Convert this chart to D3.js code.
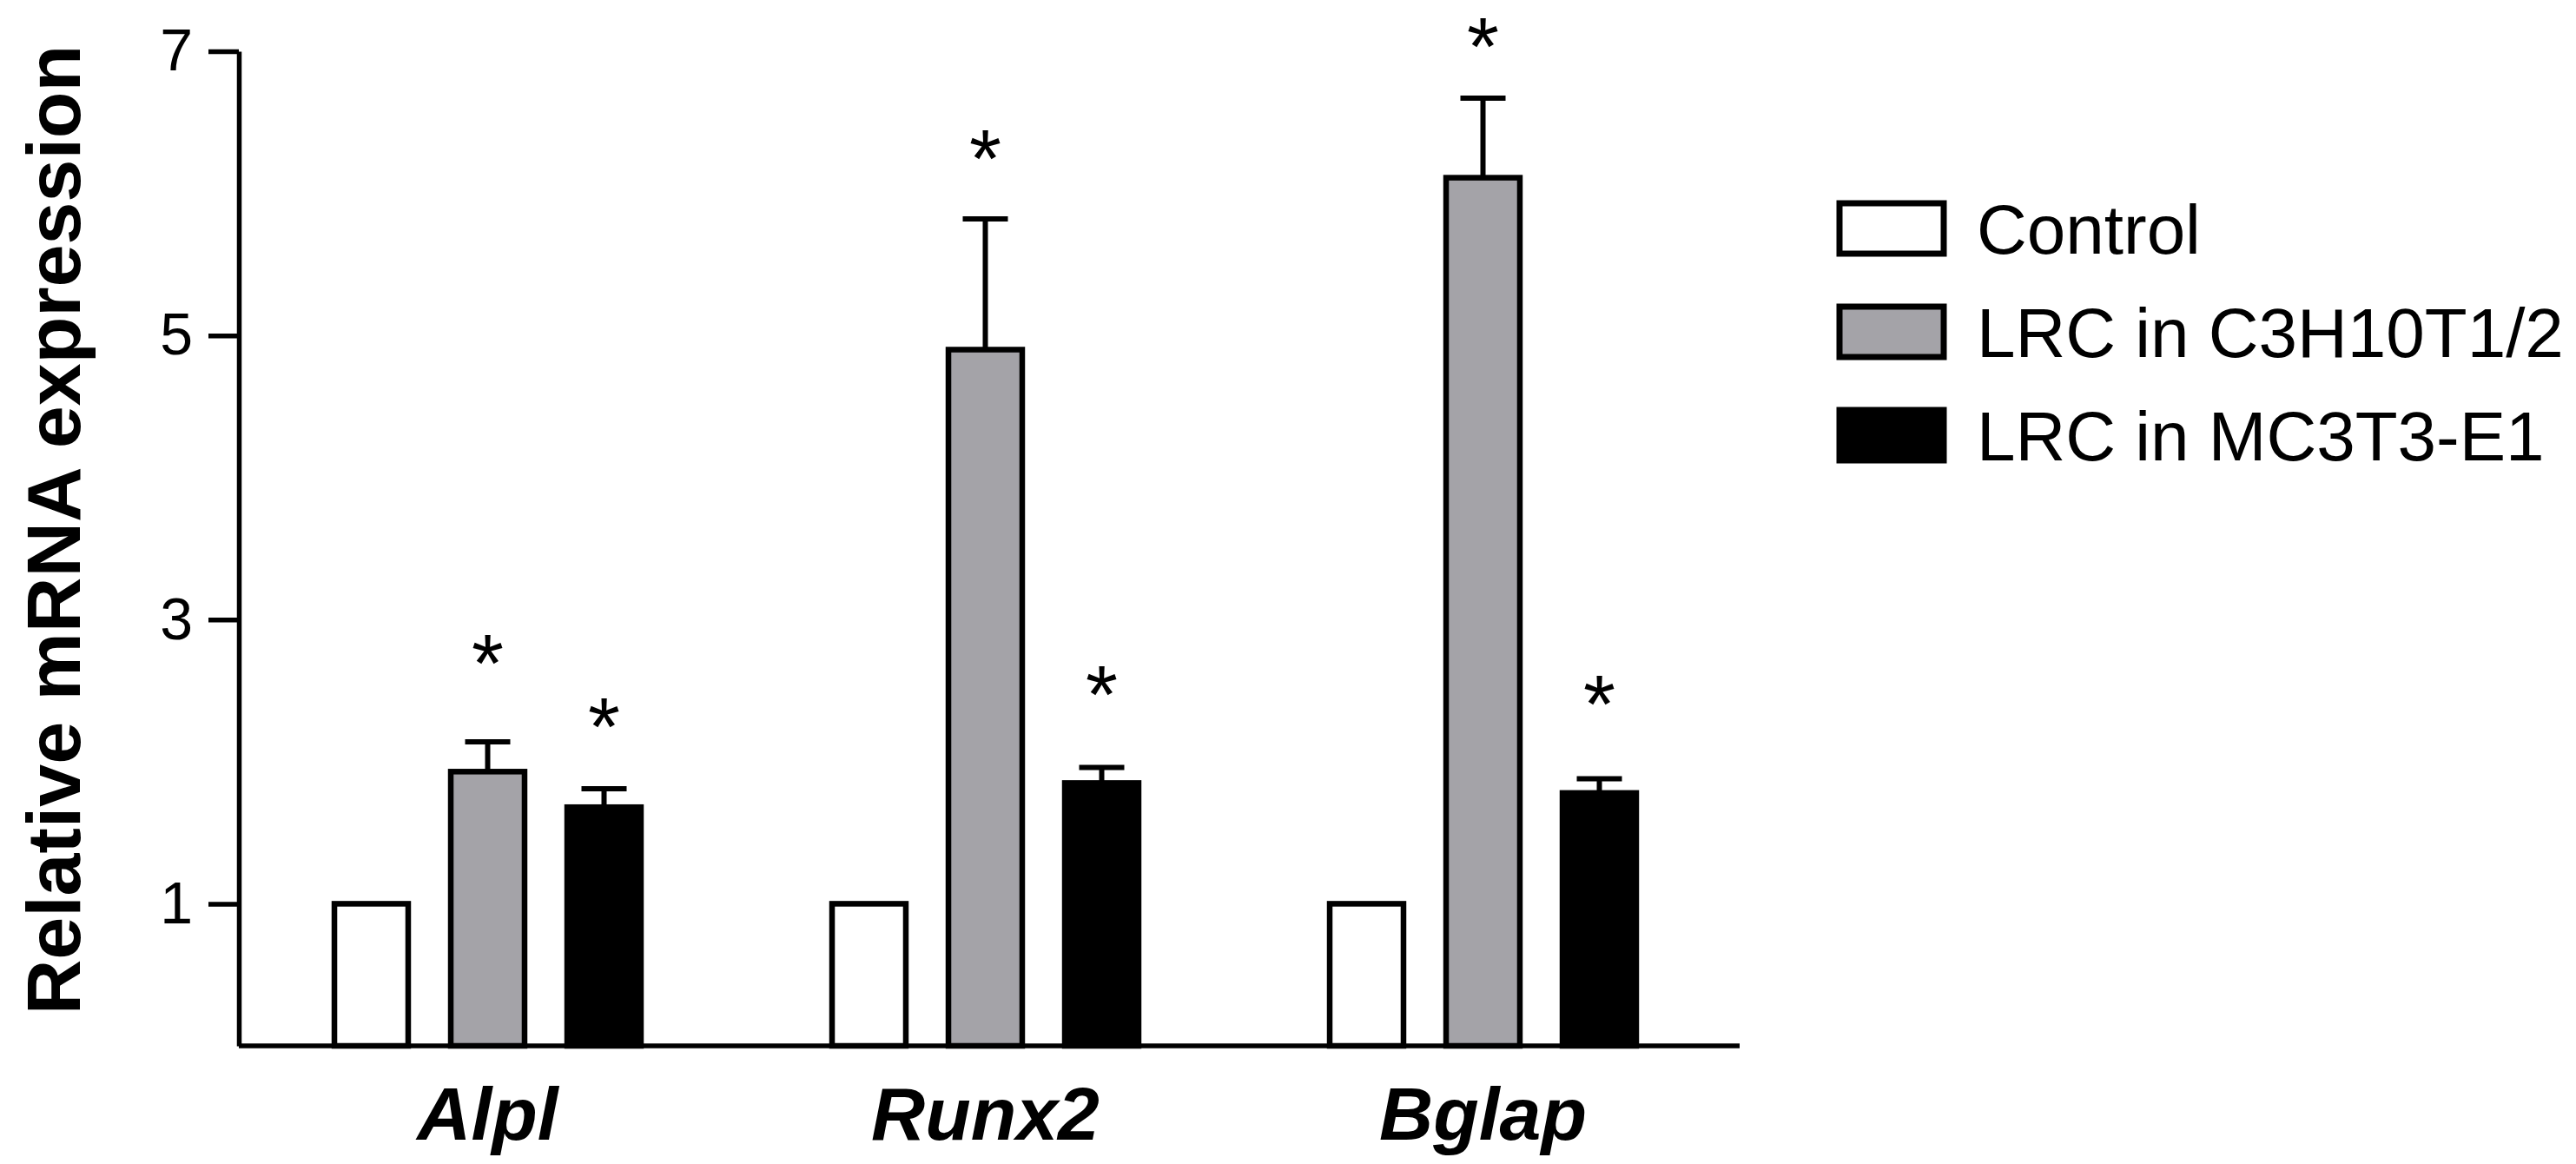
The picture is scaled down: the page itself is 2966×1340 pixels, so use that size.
<!DOCTYPE html>
<html>
<head>
<meta charset="utf-8">
<script src="https://cdn.jsdelivr.net/npm/d3@7"></script>
<style>
  body { margin: 0; background: #fff; }
  svg { display: block; font-family: Arial, "Liberation Sans", sans-serif; }
</style>
</head>
<body>
<div id="chart"></div>
<script>
// Relative mRNA expression of osteogenic markers, mean + SEM.
const genes = ["Alpl", "Runx2", "Bglap"];
const groups = ["Control", "LRC in C3H10T1/2", "LRC in MC3T3-E1"];
const control = [1, 1, 1];
const c3h = [1.93, 4.90, 6.11];
const c3hSem = [0.21, 0.92, 0.56];
const mc3t3 = [1.68, 1.85, 1.78];
const mc3t3Sem = [0.13, 0.11, 0.10];
// centre of each significance star, in axis units (null = no star)
const c3hStar = [2.82, 6.37, 7.16];
const mc3t3Star = [2.37, 2.60, 2.53];
const yTicks = [1, 3, 5, 7];

const fills = { "Control": "#ffffff", "LRC in C3H10T1/2": "#a4a3a8", "LRC in MC3T3-E1": "#000000" };

const W = 2966, H = 1340;
const axisLeft = 275, axisRight = 2003, yBase = 1204, yTop = 59;
const groupStep = 573;

const svg = d3.select("#chart").append("svg")
  .attr("width", W).attr("height", H)
  .attr("viewBox", `0 0 ${W} ${H}`);

const x0 = d3.scaleBand().domain(genes).range([axisLeft, axisLeft + groupStep * genes.length]);
const x1 = d3.scaleBand().domain(groups).range([-201, 201]).paddingInner(0.366).paddingOuter(0.183);
const y = d3.scaleLinear([0, 7], [yBase, yTop]);

const rows = genes.flatMap((g, i) => [
  { gene: g, group: groups[0], v: control[i], sem: 0, star: null },
  { gene: g, group: groups[1], v: c3h[i], sem: c3hSem[i], star: c3hStar[i] },
  { gene: g, group: groups[2], v: mc3t3[i], sem: mc3t3Sem[i], star: mc3t3Star[i] },
]);
const cx = (d) => x0(d.gene) + x0.bandwidth() / 2 + x1(d.group) + x1.bandwidth() / 2;

// error bars (upper only) drawn under the bars
const err = svg.append("g").attr("stroke", "#000").attr("stroke-width", 6)
  .selectAll("g").data(rows.filter((d) => d.sem > 0)).join("g");
err.append("line")
  .attr("x1", cx).attr("x2", cx)
  .attr("y1", (d) => y(d.v)).attr("y2", (d) => y(d.v + d.sem));
err.append("line")
  .attr("x1", (d) => cx(d) - 26).attr("x2", (d) => cx(d) + 26)
  .attr("y1", (d) => y(d.v + d.sem)).attr("y2", (d) => y(d.v + d.sem));

svg.append("g").selectAll("rect").data(rows).join("rect")
  .attr("x", (d) => cx(d) - x1.bandwidth() / 2)
  .attr("width", x1.bandwidth())
  .attr("y", (d) => y(d.v))
  .attr("height", (d) => y(0) - y(d.v))
  .attr("fill", (d) => fills[d.group])
  .attr("stroke", "#000").attr("stroke-width", 6.5);

svg.append("g").selectAll("text").data(rows.filter((d) => d.star != null)).join("text")
  .attr("x", cx).attr("y", (d) => y(d.star) + 53)
  .attr("text-anchor", "middle")
  .attr("font-size", 95)
  .text("*");

// y axis
const ya = svg.append("g").attr("transform", `translate(${axisLeft},0)`)
  .call(d3.axisLeft(y).tickValues(yTicks).tickSize(35).tickSizeOuter(0).tickPadding(18).tickFormat(d3.format("d")));
ya.selectAll("path, line").attr("stroke", "#000").attr("stroke-width", 5.5);
ya.selectAll("text").attr("font-size", 68).attr("fill", "#000").attr("font-family", "Arial, 'Liberation Sans', sans-serif");

// x axis (baseline runs a little past the last group)
const xa = svg.append("g").attr("transform", `translate(0,${yBase})`)
  .call(d3.axisBottom(x0).tickSize(0).tickSizeOuter(0).tickPadding(47));
xa.select(".domain").attr("d", `M${axisLeft},0H${axisRight}`)
  .attr("stroke", "#000").attr("stroke-width", 5.5);
xa.selectAll("text").attr("font-size", 86).attr("font-weight", "bold").attr("font-style", "italic")
  .attr("fill", "#000").attr("font-family", "Arial, 'Liberation Sans', sans-serif");

svg.append("text")
  .attr("transform", "rotate(-90)")
  .attr("x", -610).attr("y", 92)
  .attr("text-anchor", "middle")
  .attr("font-size", 88).attr("font-weight", "bold")
  .text("Relative mRNA expression");

// legend
const leg = svg.append("g").selectAll("g").data(groups).join("g")
  .attr("transform", (_, i) => `translate(2118,${234 + i * 119})`);
leg.append("rect")
  .attr("width", 120).attr("height", 58)
  .attr("fill", (d) => fills[d]).attr("stroke", "#000").attr("stroke-width", 7);
leg.append("text")
  .attr("x", 158).attr("y", 58)
  .attr("font-size", 80)
  .text((d) => d);
</script>
</body>
</html>
